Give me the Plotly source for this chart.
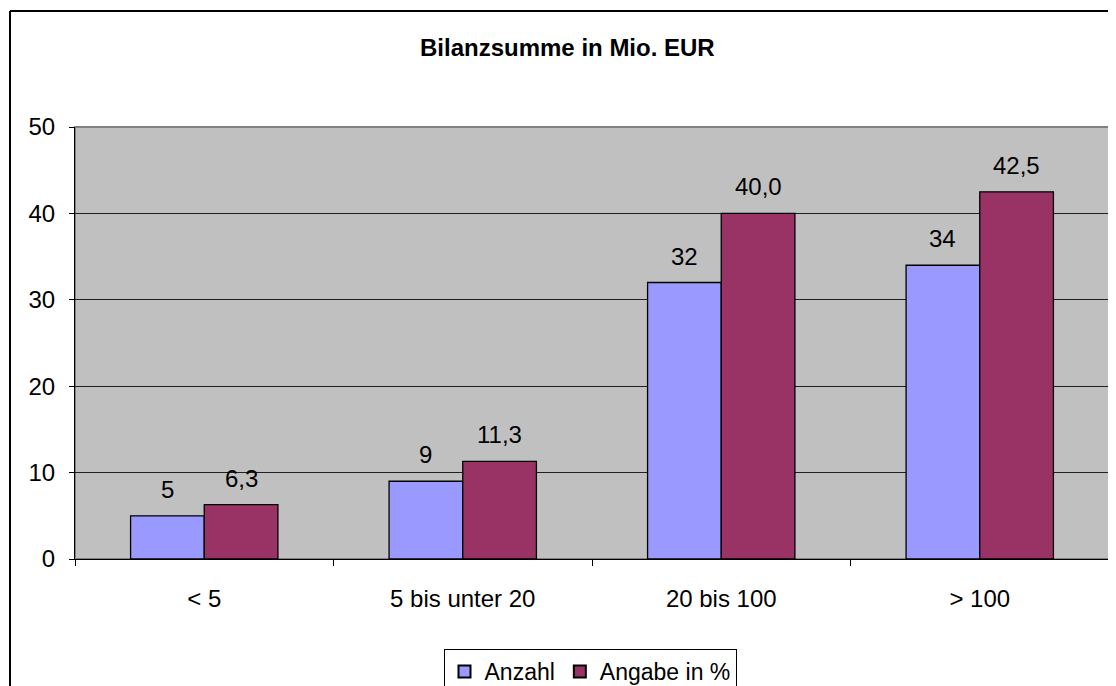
import plotly.graph_objects as go

categories = ["< 5", "5 bis unter 20", "20 bis 100", "> 100"]
anzahl = [5, 9, 32, 34]
angabe = [6.3, 11.3, 40.0, 42.5]
anzahl_labels = ["5", "9", "32", "34"]
angabe_labels = ["6,3", "11,3", "40,0", "42,5"]
y_ticks = [0, 10, 20, 30, 40, 50]

FONT = "Liberation Sans, Arial, sans-serif"
OFF = 8  # page body margin
W, H = 1116 - OFF, 686 - OFF
L, R, T = 75 - OFF, 7, 127 - OFF
B = H - (559 - OFF)
pw, ph = W - L - R, H - T - B

def px_x(p):
    return (p - OFF - L) / pw

def px_y(p):
    return (H - B - (p - OFF)) / ph

fig = go.Figure()
fig.add_trace(go.Bar(name="Anzahl", x=categories, y=anzahl,
                     marker=dict(color="#9999FF", line=dict(color="black", width=1.3))))
fig.add_trace(go.Bar(name="Angabe in %", x=categories, y=angabe,
                     marker=dict(color="#993366", line=dict(color="black", width=1.3))))

annotations = []
for c, v, t in zip(categories, anzahl, anzahl_labels):
    annotations.append(dict(x=c, y=v, text=t, showarrow=False, xshift=-37, yshift=11,
                            yanchor="bottom", font=dict(family=FONT, size=24, color="black")))
for c, v, t in zip(categories, angabe, angabe_labels):
    annotations.append(dict(x=c, y=v, text=t, showarrow=False, xshift=37, yshift=11,
                            yanchor="bottom", font=dict(family=FONT, size=24, color="black")))

annotations.append(dict(xref="paper", yref="paper", x=px_x(567), y=px_y(48),
                        text="<b>Bilanzsumme in Mio. EUR</b>", showarrow=False,
                        xanchor="center", yanchor="middle",
                        font=dict(family=FONT, size=24, color="black")))

fig.update_layout(
    width=W, height=H,
    margin=dict(l=L, r=R, t=T, b=B, autoexpand=False),
    paper_bgcolor="white", plot_bgcolor="#C0C0C0",
    barmode="group", bargap=0.43, bargroupgap=0,
    font=dict(family=FONT, size=24, color="black"),
    annotations=annotations,
    showlegend=True,
    legend=dict(orientation="h", x=px_x(590), xanchor="center", y=px_y(649), yanchor="top",
                bordercolor="black", borderwidth=1, bgcolor="white",
                font=dict(family=FONT, size=23, color="black"),
                itemsizing="constant", traceorder="normal"),
    shapes=[
        dict(type="rect", xref="paper", yref="paper", x0=0, x1=1, y0=0, y1=1,
             line=dict(color="#808080", width=2), fillcolor="rgba(0,0,0,0)", layer="below"),
        dict(type="line", xref="paper", yref="paper", x0=px_x(10), x1=px_x(10),
             y0=px_y(11), y1=px_y(700), line=dict(color="black", width=2)),
        dict(type="line", xref="paper", yref="paper", x0=px_x(10), x1=px_x(1130),
             y0=px_y(11), y1=px_y(11), line=dict(color="black", width=2)),
    ],
)

fig.update_xaxes(
    type="category", tickson="boundaries", ticks="outside", ticklen=6, tickcolor="black",
    showline=True, linecolor="black", linewidth=1, showgrid=False,
    tickfont=dict(family=FONT, size=24, color="black"), ticklabelstandoff=18,
)
fig.update_yaxes(
    range=[0, 50], tickvals=y_ticks, ticks="outside", ticklen=5, tickcolor="black",
    showline=True, linecolor="black", linewidth=1,
    showgrid=True, gridcolor="#202020", gridwidth=1, zeroline=False,
    tickfont=dict(family=FONT, size=24, color="black"), ticklabelstandoff=9,
)

fig.write_html("out.html")
